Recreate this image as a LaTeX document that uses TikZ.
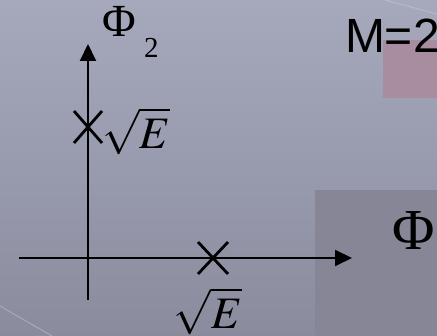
\documentclass[tikz,border=0pt]{standalone}
\usepackage{mathptmx}
\usepackage{fontspec}
\newfontfamily\helv{Liberation Sans}
\newfontfamily\tms{Liberation Serif}
\usetikzlibrary{arrows.meta}
\definecolor{bgtop}{RGB}{166,168,188}
\definecolor{bgbot}{RGB}{138,140,158}
\definecolor{pinkbox}{RGB}{168,140,160}
\definecolor{greybox}{RGB}{134,134,150}
\tikzset{
  axis/.style={line width=2pt,-{Triangle[length=17pt,width=16pt]}},
  crossline/.style={line width=2.8pt},
  lbl/.style={inner sep=0pt,outer sep=0pt},
}
\begin{document}
\begin{tikzpicture}[x=1pt,y=-1pt]
\useasboundingbox (0,0) rectangle (437,336);
\shade[top color=bgtop,bottom color=bgbot] (0,0) rectangle (437,336);
\fill[pinkbox] (383,40) rectangle (437,98);
\fill[greybox] (315,190) rectangle (437,336);
\draw[white,opacity=0.25,line width=1pt] (0,306) -- (52,336);
\draw[white,opacity=0.2,line width=1pt] (385,0) -- (437,14);
% axes
\coordinate (xs) at (19,258);
\coordinate (xe) at (352,258);
\coordinate (ys) at (88,300);
\coordinate (ye) at (88,44);
\draw[axis] (xs) -- (xe);
\draw[axis] (ys) -- (ye);
% crosses
\coordinate (c1) at (88,127);
\coordinate (c2) at (213,258);
\draw[crossline] ([shift={(-14,-16)}]c1) -- ([shift={(14,16)}]c1);
\draw[crossline] ([shift={(-14,16)}]c1) -- ([shift={(14,-16)}]c1);
\draw[crossline] ([shift={(-15,-16)}]c2) -- ([shift={(15,16)}]c2);
\draw[crossline] ([shift={(-15,16)}]c2) -- ([shift={(15,-16)}]c2);
% labels
\node[lbl,anchor=west] (e1) at (102,131) {\fontsize{45}{50}\selectfont $\sqrt{E}$};
\node[lbl] (e2) at (208,311) {\fontsize{45}{50}\selectfont $\sqrt{E}$};
\node[lbl,anchor=base west] (p2) at (102,37) {\tms\fontsize{46}{50}\selectfont Φ};
\node[lbl,anchor=base west] (p2s) at (144,58) {\tms\fontsize{29}{32}\selectfont 2};
\node[lbl,anchor=base west] (p1) at (392,250) {\tms\fontsize{58}{62}\selectfont Φ};
\node[lbl,anchor=base west] (p1s) at (434,270) {\tms\fontsize{36}{40}\selectfont 1};
\node[lbl,anchor=base west] (m) at (345,53) {\helv\fontsize{48}{52}\selectfont M=2};
\end{tikzpicture}
\end{document}
